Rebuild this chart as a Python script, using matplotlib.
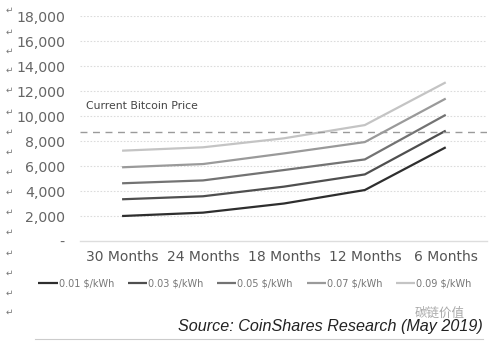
import matplotlib
matplotlib.use("Agg")
import matplotlib.pyplot as plt
import numpy as np

categories = ["30 Months", "24 Months", "18 Months", "12 Months", "6 Months"]
series_labels = ["0.01 $/kWh", "0.03 $/kWh", "0.05 $/kWh", "0.07 $/kWh", "0.09 $/kWh"]
s001 = [2000, 2270, 3000, 4080, 7500]
s003 = [3340, 3580, 4350, 5330, 8830]
s005 = [4620, 4850, 5680, 6530, 10100]
s007 = [5900, 6160, 7010, 7920, 11400]
s009 = [7230, 7500, 8220, 9280, 12700]
btc_price = 8750
yticks = [0, 2000, 4000, 6000, 8000, 10000, 12000, 14000, 16000, 18000]
ytick_labels = ["-", "2,000", "4,000", "6,000", "8,000", "10,000", "12,000", "14,000", "16,000", "18,000"]

colors = ["#2e2e2e", "#4f4f4f", "#737373", "#9a9a9a", "#c4c4c4"]

fig = plt.figure(figsize=(5.0, 3.51), dpi=100)
ax = fig.add_axes([0.16, 0.3134, 0.814, 0.6406])
x = np.arange(len(categories))
for vals, lab, c in zip([s001, s003, s005, s007, s009], series_labels, colors):
    ax.plot(x, vals, color=c, lw=1.6, label=lab, solid_capstyle="butt")

ax.axhline(btc_price, color="#9a9a9a", lw=1.0, ls=(0, (5, 4)))
ax.text(-0.45, 10400, "Current Bitcoin Price", fontsize=7.8, color="#444444", va="bottom", ha="left")

ax.set_xlim(-0.52, 4.51)
ax.set_ylim(0, 18000)
ax.set_yticks(yticks)
ax.set_yticklabels(ytick_labels)
ax.set_xticks(x)
ax.set_xticklabels(categories)
for yv in yticks[1:]:
    ax.axhline(yv, color="#dcdcdc", lw=0.8, ls=(0, (1.5, 1.5)), zorder=0)
ax.tick_params(axis="y", length=0, pad=10.8, labelsize=10.2, labelcolor="#666666")
ax.tick_params(axis="x", length=0, pad=6.5, labelsize=10, labelcolor="#555555")
for s in ["top", "right", "left"]:
    ax.spines[s].set_visible(False)
ax.spines["bottom"].set_color("#dddddd")
ax.spines["bottom"].set_linewidth(1.0)

leg = fig.legend(loc="center", bbox_to_anchor=(0.51, 0.193), ncol=5, frameon=False,
                 fontsize=7.0, handlelength=2.0, handletextpad=0.1, columnspacing=1.4,
                 labelcolor="#777777")

# paragraph marks along left margin
for yp in [10, 32, 51, 70, 90, 112, 132, 152, 172, 192, 212, 232, 253, 273, 293, 312]:
    fig.text(0.018, 1 - yp / 351, "\u21b5", fontsize=6.5, color="#777777", ha="center", va="center")

fig.text(0.966, 1 - 327 / 351, "Source: CoinShares Research (May 2019)", fontsize=11.6,
         style="italic", family="Liberation Sans", color="#222222", ha="right", va="center")
fig.text(0.88, 1 - 313 / 351, "碳链价值", fontsize=9, color="#aaaaaa", ha="center", va="center",
         family=["Noto Sans CJK SC", "DejaVu Sans"])
fig.add_artist(plt.Line2D([0.07, 0.966], [1 - 339 / 351] * 2, color="#cccccc", lw=0.8))

fig.savefig("out.png", dpi=100, facecolor="white")
